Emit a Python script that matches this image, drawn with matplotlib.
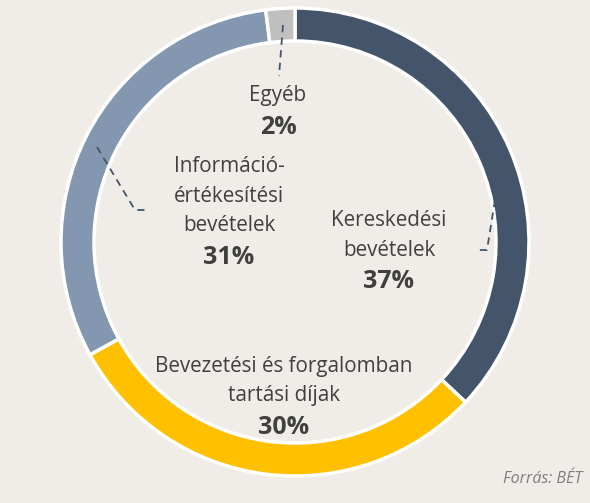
import matplotlib.pyplot as plt

# data
labels = ["Kereskedési\nbevételek", "Bevezetési és forgalomban\ntartási díjak",
          "Információ-\nértékesítési\nbevételek", "Egyéb"]
shares = [37, 30, 31, 2]
colors = ["#44546a", "#ffc000", "#8497b0", "#bfbfbf"]

bg = "#f0ede8"
txt = "#404040"
H = 503

fig = plt.figure(figsize=(5.9, 5.03), dpi=100, facecolor=bg)
ax = fig.add_axes([0, 0, 1, 1])
ax.set_facecolor(bg)

# donut
cx, cy, r = 295, H - 242, 234
ax.pie(shares, colors=colors, startangle=90, counterclock=False,
       center=(cx, cy), radius=r, frame=True,
       wedgeprops=dict(width=33, edgecolor="white", linewidth=2.5))
ax.set_xlim(0, 590)
ax.set_ylim(0, H)
ax.set_aspect("equal")
ax.axis("off")

# label anchor: x centre, baseline of first line (pixels from top)
label_pos = [(389, 226), (284, 372), (229, 172), (278, 101)]
line_h = 29.5
for lab, val, (x, y) in zip(labels, shares, label_pos):
    lines = lab.split("\n")
    for i, ln in enumerate(lines):
        ax.text(x, H - (y + i * line_h), ln, ha="center", va="baseline",
                fontsize=14.9, color=txt, family="Open Sans")
    ax.text(x, H - (y + (len(lines) - 1) * line_h + 33), f"{val}%", ha="center",
            va="baseline", fontsize=18, fontweight="bold", color=txt, family="Open Sans")

# leader lines
lead = dict(color="#44546a", lw=1.3, ls=(0, (4, 3)))
ax.plot([283, 279], [H - 25, H - 76], **lead)
ax.plot([97, 135, 146], [H - 147, H - 210, H - 210], **lead)
ax.plot([495, 487, 477], [H - 200, H - 250, H - 250], **lead)

ax.text(582, H - 483, "Forrás: BÉT", ha="right", va="baseline", fontsize=11.5,
        style="italic", color="#7f7f7f", family="Open Sans")

fig.savefig("out.png", dpi=100, facecolor=bg)
